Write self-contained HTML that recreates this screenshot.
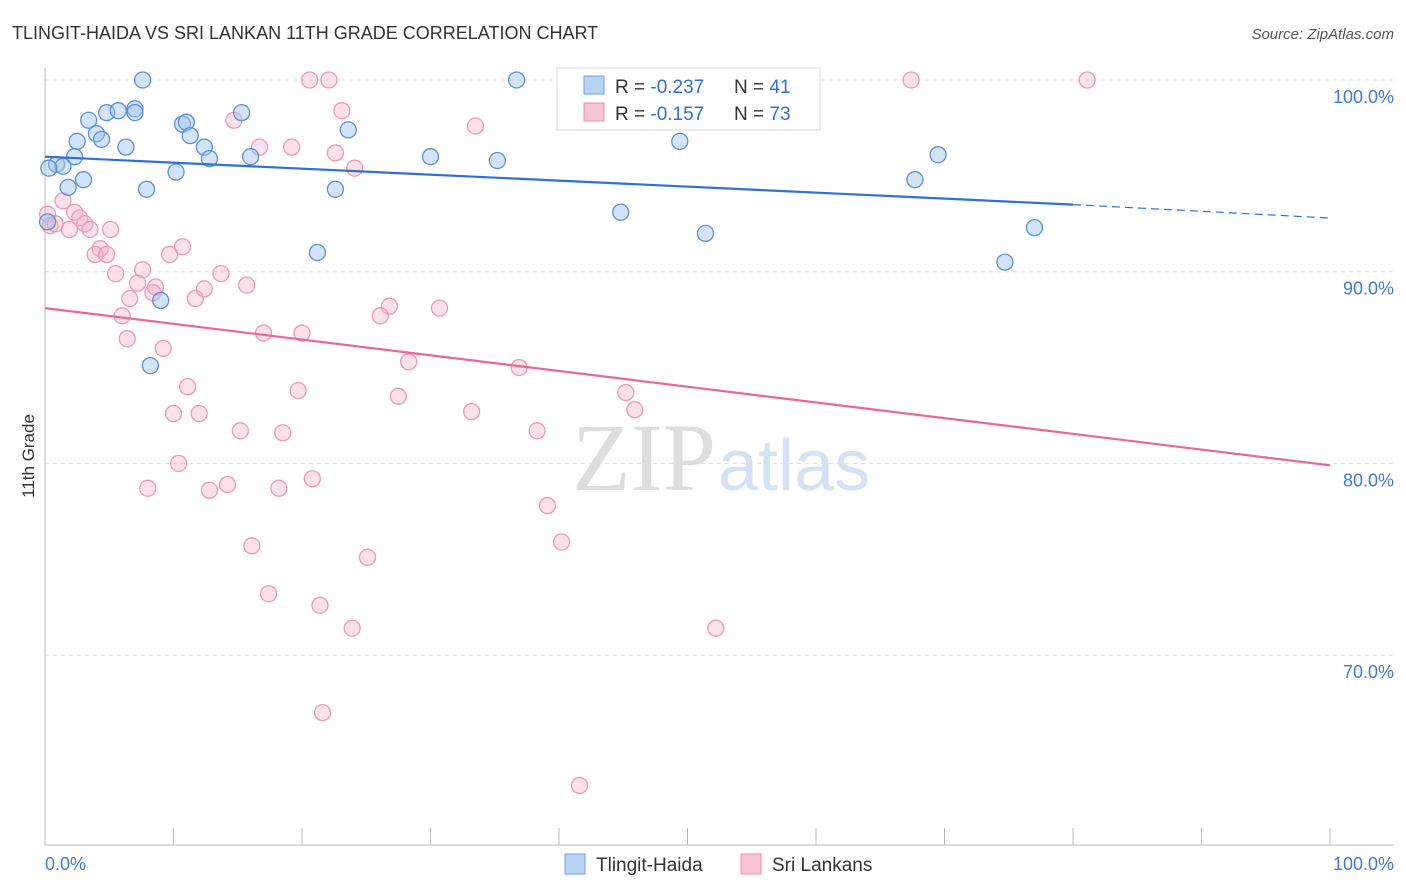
<!DOCTYPE html>
<html><head><meta charset="utf-8"><style>
body{margin:0;background:#fff;font-family:"Liberation Sans",sans-serif;}
svg{display:block}
</style></head><body>
<svg id="chart" width="1406" height="892">
<text x="12" y="39" font-size="18" fill="#333">TLINGIT-HAIDA VS SRI LANKAN 11TH GRADE CORRELATION CHART</text>
<text x="1394" y="39" font-size="15" fill="#555" font-style="italic" text-anchor="end">Source: ZipAtlas.com</text>
<text x="34" y="456" font-size="17" fill="#333" text-anchor="middle" transform="rotate(-90 34 456)">11th Grade</text>
<text x="716" y="490" font-size="96" fill="#ddd" text-anchor="end" font-family="Liberation Serif,serif">ZIP</text>
<text x="718" y="490" font-size="72" fill="#d6e2f3">atlas</text>
<g id="grid"></g><g id="marks"></g>
<g>
<rect x="557" y="68" width="263" height="62" fill="#fff" stroke="#ddd"/>
<rect x="584" y="76" width="20" height="18" fill="#b9d3f5" stroke="#6f9fe0"/>
<rect x="584" y="103" width="20" height="18" fill="#f8c4d4" stroke="#e890ab"/>
<text x="615" y="93" font-size="19" fill="#333">R = <tspan fill="#2f6fd6">-0.237</tspan></text>
<text x="734" y="93" font-size="19" fill="#333">N = <tspan fill="#2f6fd6">41</tspan></text>
<text x="615" y="120" font-size="19" fill="#333">R = <tspan fill="#2f6fd6">-0.157</tspan></text>
<text x="734" y="120" font-size="19" fill="#333">N = <tspan fill="#2f6fd6">73</tspan></text>
</g>
<g>
<rect x="565" y="854" width="20" height="20" fill="#b9d3f5" stroke="#6f9fe0"/>
<text x="596" y="871" font-size="19" fill="#333">Tlingit-Haida</text>
<rect x="741" y="854" width="20" height="20" fill="#f8c4d4" stroke="#e890ab"/>
<text x="772" y="871" font-size="19" fill="#333">Sri Lankans</text>
</g>
<text x="45" y="870" font-size="18" fill="#3f7ad8">0.0%</text>
<text x="1394" y="870" font-size="18" fill="#3f7ad8" text-anchor="end">100.0%</text>
</svg>
<script>
const blueX=[7.6,36.7,4.8,5.7,7.0,7.0,15.3,3.4,10.7,11.0,4.0,4.4,2.5,11.3,23.6,6.3,12.4,12.8,16.0,2.3,0.9,1.4,0.3,3.0,1.8,7.9,10.2,22.6,30.0,35.2,49.4,69.5,67.7,44.8,51.4,77.0,21.2,74.7,9.0,8.2,0.2];
const blueY=[100,100,98.3,98.4,98.5,98.3,98.3,97.9,97.7,97.8,97.2,96.9,96.8,97.1,97.4,96.5,96.5,95.9,96.0,96.0,95.6,95.5,95.4,94.8,94.4,94.3,95.2,94.3,96.0,95.8,96.8,96.1,94.8,93.1,92.0,92.3,91.0,90.5,88.5,85.1,92.6];
const pinkX=[20.6,22.1,67.4,81.1,23.1,14.7,33.5,16.7,19.2,22.6,24.1,1.4,0.2,0.4,0.8,2.3,2.7,3.1,1.9,3.5,5.1,4.3,3.9,4.8,10.7,9.7,7.6,5.5,13.7,7.2,8.6,8.4,12.4,15.7,6.6,11.7,26.8,26.1,30.7,6.0,17.0,20.0,6.4,9.2,28.3,36.9,11.1,19.7,27.5,45.2,45.9,33.2,10.0,12.0,15.2,18.5,38.3,10.4,20.8,8.0,12.8,14.2,18.2,39.1,16.1,40.2,25.1,17.4,21.4,23.9,52.2,21.6,41.6];
const pinkY=[100,100,100,100,98.4,97.9,97.6,96.5,96.5,96.2,95.4,93.7,93.0,92.4,92.5,93.1,92.8,92.5,92.2,92.2,92.2,91.2,90.9,90.9,91.3,90.9,90.1,89.9,89.9,89.4,89.2,88.9,89.1,89.3,88.6,88.6,88.2,87.7,88.1,87.7,86.8,86.8,86.5,86.0,85.3,85.0,84.0,83.8,83.5,83.7,82.8,82.7,82.6,82.6,81.7,81.6,81.7,80.0,79.2,78.7,78.6,78.9,78.7,77.8,75.7,75.9,75.1,73.2,72.6,71.4,71.4,67.0,63.2];
const ticks=[100,90,80,70];
const blueTrend=[96.0,93.5,92.8];const pinkTrend=[88.1,79.9];
const X=v=>45+v*12.85, Y=v=>80+(100-v)*19.17;
const NS='http://www.w3.org/2000/svg';
const g=document.getElementById('grid'),m=document.getElementById('marks');
function mk(tag,a,p){const e=document.createElementNS(NS,tag);for(const k in a)e.setAttribute(k,a[k]);p.appendChild(e);return e;}
ticks.forEach(t=>{
 const l=mk('line',{x1:45,x2:1394,y1:Y(t),y2:Y(t),stroke:'#ddd','stroke-dasharray':'4 4'},g);
 
 
 const tx=mk('text',{x:1394,y:Y(t)+23,'font-size':18,fill:'#3f7ad8','text-anchor':'end'},g);tx.textContent=t.toFixed(1)+'%';
 
 
});
const ax=mk('line',{x1:45,x2:45,y1:68,y2:845,stroke:'#bbb'},g);


const xa=mk('line',{x1:45,x2:1394,y1:845,y2:845,stroke:'#bbb'},g);


for(let i=0;i<=10;i++){const t=mk('line',{x1:X(i*10),x2:X(i*10),y1:828,y2:845,stroke:'#bbb'},g);
 
 }
pinkX.forEach((v,i)=>{const c=mk('circle',{cx:X(v),cy:Y(pinkY[i]),r:8,fill:'rgba(246,170,195,0.35)',stroke:'#ec9ab4','stroke-width':1.3},m);
 
 });
blueX.forEach((v,i)=>{const c=mk('circle',{cx:X(v),cy:Y(blueY[i]),r:8,fill:'rgba(160,195,240,0.45)',stroke:'#5b8fdc','stroke-width':1.3},m);
 
 });
const bl=mk('line',{x1:X(0),y1:Y(blueTrend[0]),x2:X(80),y2:Y(blueTrend[1]),stroke:'#2f6fd6','stroke-width':2.2},m);


const bd=mk('line',{x1:X(80),y1:Y(blueTrend[1]),x2:X(100),y2:Y(blueTrend[2]),stroke:'#2f6fd6','stroke-width':1.2,'stroke-dasharray':'8 5'},m);


const pl=mk('line',{x1:X(0),y1:Y(pinkTrend[0]),x2:X(100),y2:Y(pinkTrend[1]),stroke:'#e8679a','stroke-width':2.2},m);


</script>
</body></html>
